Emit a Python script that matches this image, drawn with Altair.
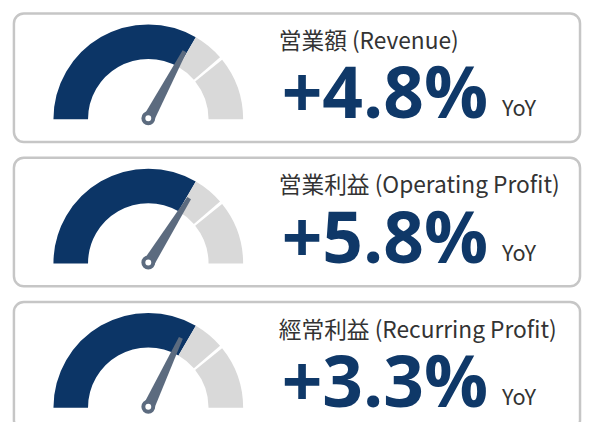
import math
import altair as alt
import pandas as pd

# ---- data ----
titles = ["営業額 (Revenue)", "営業利益 (Operating Profit)", "經常利益 (Recurring Profit)"]
growth = [0.048, 0.058, 0.033]          # YoY growth
needle_pos = [0.656, 0.678, 0.639]      # needle position on gauge (0 = left, 1 = right)
seg_start = [0.0, 0.667, 0.784]         # gauge band segments
seg_end = [0.667, 0.773, 1.0]
seg_color = ["#0c3566", "#d9d9d9", "#d9d9d9"]

NAVY = "#0f3868"
NEEDLE = "#5c6b7f"
TEXT = "#333333"

PW, PH = 573, 130
CX, CY = 136, 107

theta_scale = alt.Scale(domain=[0, 1], range=[-math.pi / 2, math.pi / 2])
angle_scale = alt.Scale(domain=[0, 1], range=[-90, 90])

needle_path = "M -0.075 0 L -0.028 -1 L 0.028 -1 L 0.075 0 Z"

seg_df = pd.DataFrame({"start": seg_start, "end": seg_end, "color": seg_color})


def panel(i):
    info = pd.DataFrame({
        "title": [titles[i]],
        "growth": [growth[i]],
        "needle": [needle_pos[i]],
        "yoy": ["YoY"],
    })
    arcs = alt.Chart(seg_df).mark_arc(radius=96, radius2=61).encode(
        x=alt.value(CX), y=alt.value(CY),
        theta=alt.Theta("start:Q", scale=theta_scale, stack=None),
        theta2="end:Q",
        color=alt.Color("color:N", scale=None),
    )
    base = alt.Chart(info)
    needle = base.mark_point(shape=needle_path, filled=True, color=NEEDLE,
                             size=156 * 156, opacity=1, strokeWidth=0).encode(
        x=alt.value(CX), y=alt.value(CY),
        angle=alt.Angle("needle:Q", scale=angle_scale),
    )
    pivot = base.mark_circle(fill="white", stroke=NEEDLE, strokeWidth=4,
                             size=100, opacity=1).encode(
        x=alt.value(CX), y=alt.value(CY - 1))
    title = base.mark_text(font="Noto Sans CJK JP", fontSize=23, color=TEXT,
                           align="left", baseline="alphabetic").encode(
        x=alt.value(268), y=alt.value(36), text="title:N")
    num = base.mark_text(font="Open Sans", fontSize=72, fontWeight="bold",
                         color=NAVY, align="left", baseline="alphabetic").encode(
        x=alt.value(271), y=alt.value(106),
        text=alt.Text("growth:Q", format="+.1%"))
    yoy = base.mark_text(font="Noto Sans CJK JP", fontSize=22, color=TEXT,
                         align="left", baseline="alphabetic").encode(
        x=alt.value(494), y=alt.value(104), text="yoy:N")
    return alt.layer(arcs, needle, pivot, title, num, yoy).properties(
        width=PW, height=PH)


chart = alt.vconcat(*[panel(i) for i in range(3)], spacing=12).properties(
    padding={"left": 4, "top": 1, "right": 0, "bottom": 0},
    background="white",
).configure_view(
    stroke="#c6c6c6", strokeWidth=2.5, cornerRadius=10, fill="white"
)

chart.save("out.html", embed_options={"renderer": "svg", "actions": False})
